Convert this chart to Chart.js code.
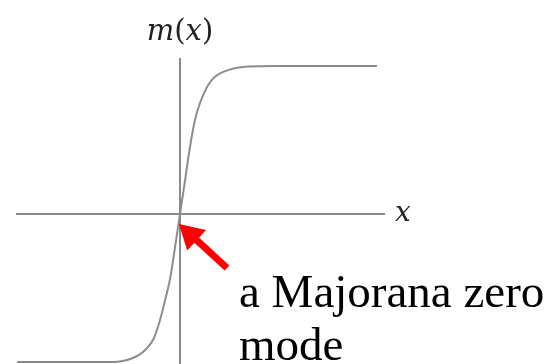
<!DOCTYPE html>
<html>
<head>
<meta charset="utf-8">
<script src="https://cdn.jsdelivr.net/npm/chart.js@4.4.1/dist/chart.umd.min.js"></script>
<style>
  html, body { margin: 0; padding: 0; background: #fff; }
  #wrap { width: 551px; height: 364px; position: relative; }
</style>
</head>
<body>
<div id="wrap"><canvas id="chart"></canvas></div>
<script>
// profile m(x): kink through the origin
const curveX = [-8.15, -4.0, -3.0, -2.35, -1.85, -1.35, -1.0, -0.75, -0.5, -0.25, 0, 0.25, 0.5, 0.75, 1.0, 1.35, 1.65, 2.0, 2.4, 2.85, 3.4, 5.0, 9.85];
const curveM = [-1.0, -1.0, -0.997, -0.973, -0.932, -0.851, -0.716, -0.585, -0.44, -0.225, 0, 0.225, 0.453, 0.635, 0.75, 0.858, 0.915, 0.950, 0.972, 0.988, 0.997, 1.0, 1.0];

// axis extents
const xAxisRange = [-8.2, 10.25];
const yAxisRange = [-1.02, 1.054];

const axisColor = '#8a8a8a';
const curveColor = '#8c8c8c';

const labels = {
  id: 'labels',
  afterDraw(chart) {
    const { ctx, scales: { x, y } } = chart;
    const ox = x.getPixelForValue(0);
    const oy = y.getPixelForValue(0);
    ctx.save();

    // m(x) above the vertical axis
    ctx.fillStyle = '#222';
    ctx.textBaseline = 'alphabetic';
    const parts = [
      ['m', 'italic 29px "DejaVu Serif"'],
      ['(', '29px "DejaVu Serif"'],
      ['x', 'italic 29px "DejaVu Serif"'],
      [')', '29px "DejaVu Serif"']
    ];
    let total = 0;
    parts.forEach(([t, f]) => { ctx.font = f; total += ctx.measureText(t).width; });
    let cx = ox - total / 2;
    const by = y.getPixelForValue(yAxisRange[1]) - 18;
    parts.forEach(([t, f]) => {
      ctx.font = f;
      ctx.fillText(t, cx, by);
      cx += ctx.measureText(t).width;
    });

    // x at the end of the horizontal axis
    ctx.font = 'italic 28px "DejaVu Serif"';
    ctx.textBaseline = 'middle';
    ctx.fillText('x', x.getPixelForValue(xAxisRange[1]) + 10, oy);

    // red arrow pointing at the zero crossing
    const tip = [ox - 1, oy + 10];
    const tail = [ox + 47, oy + 54];
    const ang = Math.atan2(tip[1] - tail[1], tip[0] - tail[0]);
    const headLen = 24, headHalf = 14;
    const base = [tip[0] - headLen * Math.cos(ang), tip[1] - headLen * Math.sin(ang)];
    ctx.strokeStyle = '#ff0000';
    ctx.fillStyle = '#ff0000';
    ctx.lineWidth = 7;
    ctx.beginPath();
    ctx.moveTo(tail[0], tail[1]);
    ctx.lineTo(base[0] + 3 * Math.cos(ang), base[1] + 3 * Math.sin(ang));
    ctx.stroke();
    ctx.beginPath();
    ctx.moveTo(tip[0], tip[1]);
    ctx.lineTo(base[0] + headHalf * Math.sin(ang), base[1] - headHalf * Math.cos(ang));
    ctx.lineTo(base[0] - headHalf * Math.sin(ang), base[1] + headHalf * Math.cos(ang));
    ctx.closePath();
    ctx.fill();

    // caption
    ctx.fillStyle = '#000';
    ctx.font = '47px "Liberation Serif"';
    ctx.textBaseline = 'alphabetic';
    ctx.fillText('a Majorana zero', ox + 59, oy + 93);
    ctx.fillText('mode', ox + 59, oy + 146);
    ctx.restore();
  }
};

new Chart(document.getElementById('chart'), {
  type: 'scatter',
  data: {
    datasets: [
      {
        data: [{ x: xAxisRange[0], y: 0 }, { x: xAxisRange[1], y: 0 }],
        borderColor: axisColor, borderWidth: 2, showLine: true, pointRadius: 0
      },
      {
        data: [{ x: 0, y: yAxisRange[0] }, { x: 0, y: yAxisRange[1] }],
        borderColor: axisColor, borderWidth: 2, showLine: true, pointRadius: 0
      },
      {
        data: curveX.map((v, i) => ({ x: v, y: curveM[i] })),
        borderColor: curveColor, borderWidth: 2, showLine: true, pointRadius: 0,
        tension: 0.35
      }
    ]
  },
  options: {
    responsive: true,
    maintainAspectRatio: false,
    animation: false,
    layout: { padding: 0 },
    clip: false,
    plugins: { legend: { display: false }, tooltip: { enabled: false } },
    scales: {
      x: { type: 'linear', display: false, min: -9, max: 18.55 },
      y: { type: 'linear', display: false, min: -1.0135, max: 1.446 }
    }
  },
  plugins: [labels]
});
</script>
</body>
</html>
